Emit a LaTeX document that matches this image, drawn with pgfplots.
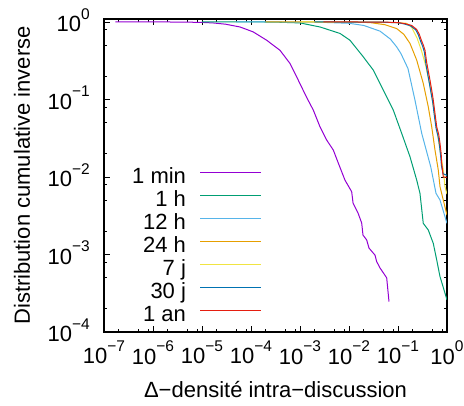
\documentclass[border=0pt]{standalone}
\usepackage{fontspec}
\setmainfont{Liberation Sans}
\usepackage{pgfplots}
\pgfplotsset{compat=1.18}
\usetikzlibrary{calc}
\definecolor{c1}{HTML}{9400D3}
\definecolor{c2}{HTML}{009E73}
\definecolor{c3}{HTML}{56B4E9}
\definecolor{c4}{HTML}{E69F00}
\definecolor{c5}{HTML}{F0E442}
\definecolor{c6}{HTML}{0072B2}
\definecolor{c7}{HTML}{E51E10}
\newcommand{\tl}[1]{10\raisebox{12.3pt}{\fontsize{15.5}{16}\selectfont #1}}
\begin{document}
\fontsize{22}{26}\selectfont
\begin{tikzpicture}
\begin{axis}[
  xmode=log, ymode=log,
  scale only axis, width=343pt, height=313pt,
  xmin=1e-7, xmax=1, ymin=1e-4, ymax=1.09,
  axis line style={line width=1.1pt},
  tick align=inside,
  major tick length=6pt, minor tick length=3pt,
  tick style={line width=0.8pt, black},
  font=\fontsize{22}{26}\selectfont,
  xtick={1e-7,1e-6,1e-5,1e-4,1e-3,1e-2,1e-1,1},
  xticklabels={\tl{−7},\tl{−6},\tl{−5},\tl{−4},\tl{−3},\tl{−2},\tl{−1},\tl{0}},
  ytick={1e-4,1e-3,1e-2,1e-1,1},
  yticklabels={\tl{−4},\tl{−3},\tl{−2},\tl{−1},\tl{0}},
  minor xtick={2e-7,5e-7,8e-7,2e-6,5e-6,8e-6,2e-5,5e-5,8e-5,2e-4,5e-4,8e-4,2e-3,5e-3,8e-3,2e-2,5e-2,8e-2,2e-1,5e-1,8e-1},
  minor ytick={2e-4,5e-4,8e-4,2e-3,5e-3,8e-3,2e-2,5e-2,8e-2,2e-1,5e-1,8e-1},
  xticklabel style={anchor=north, inner sep=0pt, yshift=-8.7pt},
  yticklabel style={anchor=base east, inner sep=0pt, xshift=-14pt, yshift=-9.7pt},
  xlabel={Δ−densité intra−discussion},
  ylabel={Distribution cumulative inverse},
  xlabel style={at={(axis description cs:0.5,-0.208)}, anchor=base, inner sep=0pt},
  ylabel style={at={(axis description cs:-0.239,0.5)}, anchor=center, inner sep=0pt},
  legend style={at={(axis description cs:0.4606,0.524)}, anchor=north east, draw=none, fill=none,
    inner sep=0pt, outer sep=0pt, row sep=0pt, column sep=14pt,
    nodes={inner sep=0pt, text height=16pt, text depth=7pt},
    font=\fontsize{22}{26}\selectfont},
  legend plot pos=right, legend cell align=right,
  legend image code/.code={\draw[#1] (0pt,7.3pt) -- (61pt,7.3pt);},
  every axis plot/.append style={line width=1pt},
]
\coordinate (SW) at (rel axis cs:0,0);
\coordinate (NE) at (rel axis cs:1,1);
\addplot[c1] coordinates {(1.7e-7,1) (1e-6,1) (4e-6,0.995) (1e-5,0.985) (1.67e-5,0.97) (3e-5,0.935) (5.97e-5,0.86) (1.11e-4,0.743) (2.09e-4,0.58) (3.91e-4,0.43) (6.25e-4,0.291) (8.57e-4,0.195) (1.35e-3,0.108) (1.87e-3,0.0728) (2.56e-3,0.0443) (3.51e-3,0.0299) (4.79e-3,0.0222) (6.05e-3,0.0151) (8.28e-3,0.0091) (0.01135,0.00645) (0.0121,0.00461) (0.01528,0.00343) (0.01816,0.00255) (0.0193,0.00178) (0.02296,0.00154) (0.0256,0.00121) (0.034,0.00098) (0.0367,0.00081) (0.043,0.00067) (0.0588,0.0005) (0.0655,0.000247)};
\addlegendentry{1 min}
\addplot[c2] coordinates {(1e-5,1) (1e-4,1) (3e-4,0.995) (1e-3,0.97) (2.56e-3,0.86) (6.55e-3,0.71) (0.01047,0.58) (0.0196,0.354) (0.0313,0.239) (0.0501,0.132) (0.0802,0.0728) (0.119,0.0365) (0.176,0.0182) (0.241,0.0091) (0.281,0.00615) (0.328,0.00252) (0.415,0.00207) (0.525,0.00139) (0.617,0.00085) (0.719,0.00052) (1.0,0.00026)};
\addlegendentry{1 h}
\addplot[c3] coordinates {(5e-5,1) (2e-3,0.995) (0.01,0.96) (0.02,0.9) (0.043,0.76) (0.07,0.6) (0.094,0.476) (0.115,0.39) (0.16,0.25) (0.222,0.098) (0.305,0.0365) (0.466,0.0135) (0.597,0.00615) (0.72,0.00504) (0.91,0.00307) (1,0.00252)};
\addlegendentry{12 h}
\addplot[c4] coordinates {(2e-4,1) (0.01,0.995) (0.0269,0.98) (0.0543,0.92) (0.094,0.82) (0.132,0.69) (0.176,0.527) (0.241,0.321) (0.328,0.161) (0.415,0.0803) (0.488,0.0443) (0.569,0.0222) (0.664,0.0123) (0.72,0.0075) (0.84,0.00504) (1,0.00323)};
\addlegendentry{24 h}
\addplot[c5] coordinates {(1e-3,1) (0.043,0.99) (0.087,0.98) (0.15,0.96) (0.19,0.85) (0.245,0.62) (0.3,0.43) (0.37,0.27) (0.45,0.15) (0.53,0.08) (0.62,0.04) (0.74,0.02) (0.84,0.0123) (0.91,0.0075) (1,0.006)};
\addlegendentry{7 j}
\addplot[c6] coordinates {(2e-3,1) (0.05,0.99) (0.1,0.975) (0.135,0.94) (0.18,0.89) (0.23,0.79) (0.26,0.68) (0.29,0.56) (0.32,0.48) (0.345,0.41) (0.37,0.29) (0.43,0.17) (0.48,0.115) (0.51,0.093) (0.55,0.063) (0.6,0.042) (0.66,0.033) (0.7,0.026) (0.74,0.019) (0.77,0.014) (0.83,0.011) (1,0.0105)};
\addlegendentry{30 j}
\addplot[c7] coordinates {(3e-3,1) (0.05,0.995) (0.1,0.98) (0.139,0.95) (0.19,0.9) (0.24,0.8) (0.27,0.7) (0.3,0.58) (0.33,0.5) (0.356,0.43) (0.385,0.3) (0.45,0.177) (0.5,0.12) (0.525,0.098) (0.569,0.066) (0.617,0.0443) (0.68,0.035) (0.72,0.0271) (0.76,0.02) (0.78,0.015) (0.84,0.01) (1,0.0099)};
\addlegendentry{1 an}
\end{axis}
\pgfresetboundingbox
\path ($(SW)+(-104pt,-73pt)$) rectangle ($(NE)+(17pt,19pt)$);
\end{tikzpicture}
\end{document}
